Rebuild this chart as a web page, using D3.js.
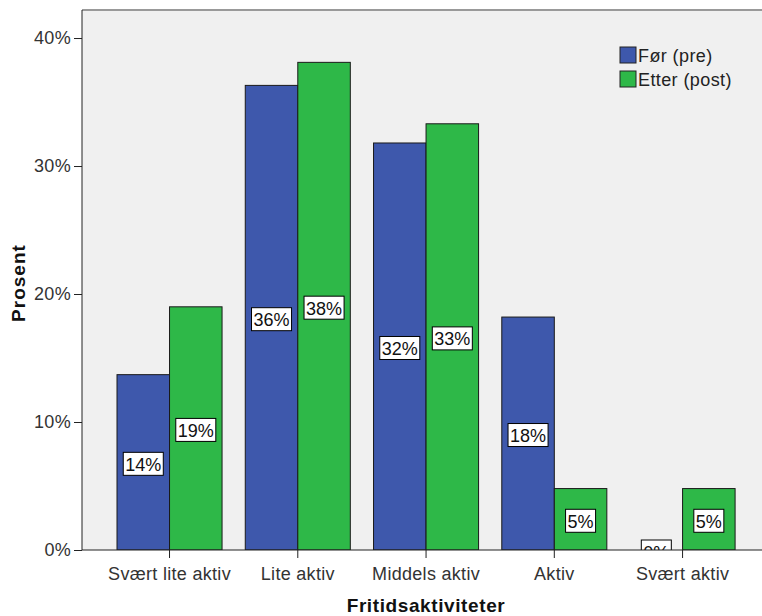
<!DOCTYPE html>
<html>
<head>
<meta charset="utf-8">
<script src="https://cdn.jsdelivr.net/npm/d3@7"></script>
<style>
  body { margin: 0; background: #fff; }
  svg { display: block; }
  text { font-family: "Liberation Sans", Arial, sans-serif; }
</style>
</head>
<body>
<svg id="chart" width="762" height="616"></svg>
<script>
const categories = ["Svært lite aktiv", "Lite aktiv", "Middels aktiv", "Aktiv", "Svært aktiv"];
const seriesNames = ["Før (pre)", "Etter (post)"];
const preValues = [13.7, 36.3, 31.8, 18.2, 0.0];
const postValues = [19.0, 38.1, 33.3, 4.8, 4.8];
const yTicks = [0, 10, 20, 30, 40];
const colors = ["#3e58ac", "#2eb848"];

const svg = d3.select("#chart");
const plot = { left: 82, top: 10, right: 762, bottom: 550 };

const y = d3.scaleLinear().domain([0, 42.19]).range([plot.bottom, plot.top]);
const x = d3.scaleBand().domain(categories).range([105.4, 746.7]).paddingInner(0.181).paddingOuter(0.0905);
const xs = d3.scaleBand().domain(seriesNames).range([0, x.bandwidth()]);

// plot background
svg.append("rect").attr("x", plot.left).attr("y", plot.top)
  .attr("width", plot.right - plot.left).attr("height", plot.bottom - plot.top)
  .attr("fill", "#f0f0f0");
svg.append("line").attr("x1", plot.left).attr("x2", plot.right)
  .attr("y1", plot.top).attr("y2", plot.top)
  .attr("stroke", "#999").attr("stroke-width", 2);

svg.append("clipPath").attr("id", "pclip").append("rect")
  .attr("x", plot.left).attr("y", plot.top)
  .attr("width", plot.right - plot.left).attr("height", plot.bottom - plot.top);

const data = [];
categories.forEach((c, i) => {
  data.push({ cat: c, s: seriesNames[0], v: preValues[i], color: colors[0] });
  data.push({ cat: c, s: seriesNames[1], v: postValues[i], color: colors[1] });
});

const g = svg.append("g").attr("clip-path", "url(#pclip)");
g.selectAll("rect.bar").data(data).enter().append("rect")
  .attr("class", "bar")
  .attr("x", d => x(d.cat) + xs(d.s))
  .attr("y", d => y(d.v))
  .attr("width", xs.bandwidth())
  .attr("height", d => y(0) - y(d.v))
  .attr("fill", d => d.color)
  .attr("stroke", "#1a1a1a").attr("stroke-width", 1);

// value labels
const lab = g.selectAll("g.lab").data(data).enter().append("g")
  .attr("class", "lab")
  .attr("transform", d => `translate(${x(d.cat) + xs(d.s) + xs.bandwidth() / 2},${(y(0) + y(d.v)) / 2 + 2})`);
const labRect = lab.append("rect").attr("y", -12).attr("height", 23)
  .attr("fill", "#fff").attr("stroke", "#000").attr("stroke-width", 1);
const labText = lab.append("text").attr("text-anchor", "middle").attr("y", 6.5)
  .attr("font-size", 18).attr("fill", "#111")
  .text(d => Math.round(d.v) + "%");
labText.each(function (d, i) {
  const w = this.getComputedTextLength() + 4;
  d3.select(labRect.nodes()[i]).attr("x", -w / 2).attr("width", w);
});

const tickFont = "'Liberation Sans', Arial, sans-serif";

// y axis
const yAxis = d3.axisLeft(y).tickValues(yTicks).tickFormat(d => d + "%").tickSize(8).tickPadding(3).tickSizeOuter(0);
const ya = svg.append("g").attr("transform", `translate(${plot.left},0)`).call(yAxis);
ya.select(".domain").attr("stroke", "#222").attr("d", `M0,${plot.top}V${plot.bottom}`);
ya.selectAll(".tick line").attr("stroke", "#222");
ya.selectAll(".tick text").attr("font-size", 18).attr("fill", "#333")
  .attr("letter-spacing", 0.3).attr("font-family", tickFont);

// x axis
const xAxis = d3.axisBottom(x).tickSize(8).tickPadding(9).tickSizeOuter(0);
const xa = svg.append("g").attr("transform", `translate(0,${plot.bottom})`).call(xAxis);
xa.select(".domain").attr("stroke", "#222").attr("d", `M${plot.left},0H${plot.right}`);
xa.selectAll(".tick line").attr("stroke", "#222");
xa.selectAll(".tick text").attr("font-size", 18).attr("fill", "#333")
  .attr("letter-spacing", 0.3).attr("font-family", tickFont);

// axis titles
svg.append("text").attr("x", 426).attr("y", 612).attr("text-anchor", "middle")
  .attr("font-size", 19).attr("font-weight", "bold").attr("letter-spacing", 0.6)
  .attr("fill", "#111").text("Fritidsaktiviteter");
svg.append("text").attr("transform", "translate(25,283) rotate(-90)").attr("text-anchor", "middle")
  .attr("font-size", 19).attr("font-weight", "bold").attr("letter-spacing", 1)
  .attr("fill", "#111").text("Prosent");

// legend
const leg = svg.append("g").attr("transform", "translate(620,47)");
seriesNames.forEach((s, i) => {
  const row = leg.append("g").attr("transform", `translate(0,${i * 24})`);
  row.append("rect").attr("width", 16).attr("height", 16).attr("fill", colors[i])
    .attr("stroke", "#222").attr("stroke-width", 1);
  row.append("text").attr("x", 18).attr("y", 15).attr("font-size", 18)
    .attr("letter-spacing", 0.4).attr("fill", "#222").text(s);
});
</script>
</body>
</html>
